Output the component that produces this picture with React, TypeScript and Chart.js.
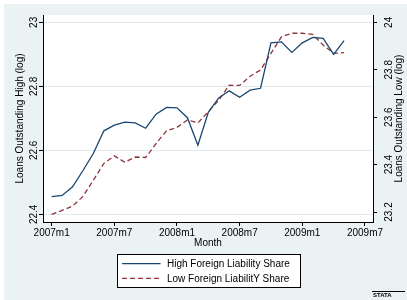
import React, { useEffect, useRef } from 'react';
import { Chart, registerables } from 'chart.js';

Chart.register(...registerables);

const months = [
  '2007m1', '2007m2', '2007m3', '2007m4', '2007m5', '2007m6', '2007m7', '2007m8', '2007m9', '2007m10', '2007m11', '2007m12',
  '2008m1', '2008m2', '2008m3', '2008m4', '2008m5', '2008m6', '2008m7', '2008m8', '2008m9', '2008m10', '2008m11', '2008m12',
  '2009m1', '2009m2', '2009m3', '2009m4', '2009m5',
];

const highShare = [
  22.455, 22.459, 22.486, 22.537, 22.591, 22.661, 22.679, 22.688, 22.686, 22.669, 22.713, 22.734,
  22.733, 22.702, 22.616, 22.719, 22.764, 22.786, 22.766, 22.788, 22.794, 22.936, 22.939, 22.906,
  22.936, 22.953, 22.950, 22.900, 22.943,
];

const lowShare = [
  23.190, 23.207, 23.225, 23.266, 23.335, 23.405, 23.437, 23.410, 23.432, 23.430, 23.489, 23.543,
  23.557, 23.588, 23.576, 23.623, 23.672, 23.735, 23.734, 23.773, 23.799, 23.869, 23.939, 23.954,
  23.954, 23.949, 23.904, 23.869, 23.872,
];

const xTickValues = [0, 6, 12, 18, 24, 30];
const xTickLabels = ['2007m1', '2007m7', '2008m1', '2008m7', '2009m1', '2009m7'];
const leftTicks = [22.4, 22.6, 22.8, 23];
const rightTicks = [23.2, 23.4, 23.6, 23.8, 24];

const seriesNames = ['High Foreign Liability Share', 'Low Foreign LiabilitY Share'];
const xTitle = 'Month';
const leftTitle = 'Loans Outstanding High (log)';
const rightTitle = 'Loans Outstanding Low (log)';

const FONT = "'Liberation Sans', Arial, Helvetica, sans-serif";
const BG = '#EAF2F3';
const BLUE = '#1A476F';
const RED = '#90353B';

const stataPlugin = {
  id: 'stataDecor',
  beforeDraw(chart: any) {
    const { ctx, chartArea } = chart;
    ctx.save();
    ctx.fillStyle = '#ffffff';
    ctx.fillRect(0, 0, chart.width, chart.height);
    ctx.fillStyle = BG;
    ctx.fillRect(4, 4, chart.width - 4, chart.height - 4);
    ctx.fillStyle = '#ffffff';
    ctx.fillRect(chartArea.left, chartArea.top, chartArea.right - chartArea.left, chartArea.bottom - chartArea.top);
    ctx.restore();
  },
  afterDraw(chart: any) {
    const { ctx, chartArea } = chart;
    const yR = chart.scales.yR;
    ctx.save();
    // right axis title (reads bottom-to-top)
    ctx.font = `10px ${FONT}`;
    ctx.fillStyle = '#000';
    ctx.textAlign = 'center';
    ctx.textBaseline = 'middle';
    ctx.translate(yR.right - 7.5, (chartArea.top + chartArea.bottom) / 2);
    ctx.rotate(-Math.PI / 2);
    ctx.fillText(rightTitle, 0, 0);
    ctx.restore();

    // legend box
    const cx = (chartArea.left + chartArea.right) / 2;
    const bw = 183;
    const bx = Math.round(cx - bw / 2) + 0.5;
    const by = 254.5;
    const bh = 33;
    ctx.save();
    ctx.fillStyle = '#ffffff';
    ctx.fillRect(bx, by, bw, bh);
    ctx.strokeStyle = '#000';
    ctx.lineWidth = 1;
    ctx.strokeRect(bx, by, bw, bh);
    const ds = chart.data.datasets;
    const rows = [263.7, 278.3];
    ds.forEach((d: any, i: number) => {
      ctx.save();
      ctx.strokeStyle = d.borderColor;
      ctx.lineWidth = d.borderWidth;
      ctx.setLineDash(d.borderDash || []);
      ctx.beginPath();
      ctx.moveTo(bx + 4.5, rows[i]);
      ctx.lineTo(bx + 43, rows[i]);
      ctx.stroke();
      ctx.restore();
      ctx.font = `10px ${FONT}`;
      ctx.fillStyle = '#000';
      ctx.textAlign = 'left';
      ctx.textBaseline = 'middle';
      ctx.fillText(d.label, bx + 49.5, rows[i] + 0.5);
    });
    ctx.restore();

    // small logo text
    ctx.save();
    ctx.fillStyle = '#000';
    ctx.fillRect(372, 291, 33, 1);
    ctx.font = `bold 6px ${FONT}`;
    ctx.textAlign = 'left';
    ctx.textBaseline = 'top';
    ctx.fillText('STATA', 373, 292.5);
    ctx.restore();
  },
};

export default function App() {
  const ref = useRef<HTMLCanvasElement | null>(null);

  useEffect(() => {
    if (!ref.current) return;
    const chart = new Chart(ref.current, {
      type: 'line',
      data: {
        datasets: [
          {
            label: seriesNames[0],
            data: highShare.map((v, i) => ({ x: i, y: v })),
            yAxisID: 'yL',
            borderColor: BLUE,
            borderWidth: 1.3,
            pointRadius: 0,
            fill: false,
            tension: 0,
          },
          {
            label: seriesNames[1],
            data: lowShare.map((v, i) => ({ x: i, y: v })),
            yAxisID: 'yR',
            borderColor: RED,
            borderWidth: 1.3,
            borderDash: [5, 3],
            pointRadius: 0,
            fill: false,
            tension: 0,
          },
        ],
      },
      options: {
        responsive: false,
        animation: false,
        devicePixelRatio: 1,
        layout: { padding: { top: 15, bottom: 50, left: 0, right: 0 } },
        plugins: { legend: { display: false }, tooltip: { enabled: false } },
        scales: {
          x: {
            type: 'linear',
            min: -0.83,
            max: 30.77,
            afterBuildTicks: (s: any) => {
              s.ticks = xTickValues.map((v) => ({ value: v }));
            },
            afterFit: (s: any) => {
              s.height = 28;
            },
            ticks: {
              autoSkip: false,
              maxRotation: 0,
              minRotation: 0,
              padding: 1,
              color: '#000',
              font: { family: FONT, size: 10 },
              callback: (v: any) => {
                const k = xTickValues.indexOf(Number(v));
                return k >= 0 ? xTickLabels[k] : '';
              },
            },
            grid: { drawOnChartArea: false, drawTicks: true, tickLength: 4, tickColor: '#000', tickWidth: 1 },
            border: { display: true, color: '#000', width: 1 },
            title: {
              display: true,
              text: xTitle,
              color: '#000',
              font: { family: FONT, size: 10 },
              padding: { top: 0, bottom: 1 },
            },
          },
          yL: {
            type: 'linear',
            position: 'left',
            min: 22.376,
            max: 23.023,
            afterBuildTicks: (s: any) => {
              s.ticks = leftTicks.map((v) => ({ value: v }));
            },
            afterFit: (s: any) => {
              s.width = 43;
            },
            ticks: {
              minRotation: 90,
              maxRotation: 90,
              crossAlign: 'center',
              padding: -4.5,
              color: '#000',
              font: { family: FONT, size: 10 },
              callback: (v: any) => String(v),
            },
            grid: { color: '#E1EBED', lineWidth: 1, drawTicks: true, tickLength: 4, tickColor: '#000', tickWidth: 1 },
            border: { display: true, color: '#000', width: 1 },
            title: {
              display: true,
              text: leftTitle,
              color: '#000',
              font: { family: FONT, size: 10 },
              padding: { top: 14.5, bottom: 0 },
            },
          },
          yR: {
            type: 'linear',
            position: 'right',
            min: 23.158,
            max: 24.031,
            afterBuildTicks: (s: any) => {
              s.ticks = rightTicks.map((v) => ({ value: v }));
            },
            afterFit: (s: any) => {
              s.width = 34;
            },
            ticks: {
              minRotation: 90,
              maxRotation: 90,
              crossAlign: 'center',
              padding: 2.6,
              color: '#000',
              font: { family: FONT, size: 10 },
              callback: (v: any) => String(v),
            },
            grid: { drawOnChartArea: false, drawTicks: true, tickLength: 4, tickColor: '#000', tickWidth: 1 },
            border: { display: true, color: '#000', width: 1 },
          },
        },
      },
      plugins: [stataPlugin],
    } as any);
    return () => chart.destroy();
  }, []);

  return (
    <div style={{ position: 'fixed', left: 0, top: 0, width: 407, height: 300 }}>
      <canvas ref={ref} width={407} height={300} style={{ display: 'block', width: 407, height: 300 }} />
    </div>
  );
}
